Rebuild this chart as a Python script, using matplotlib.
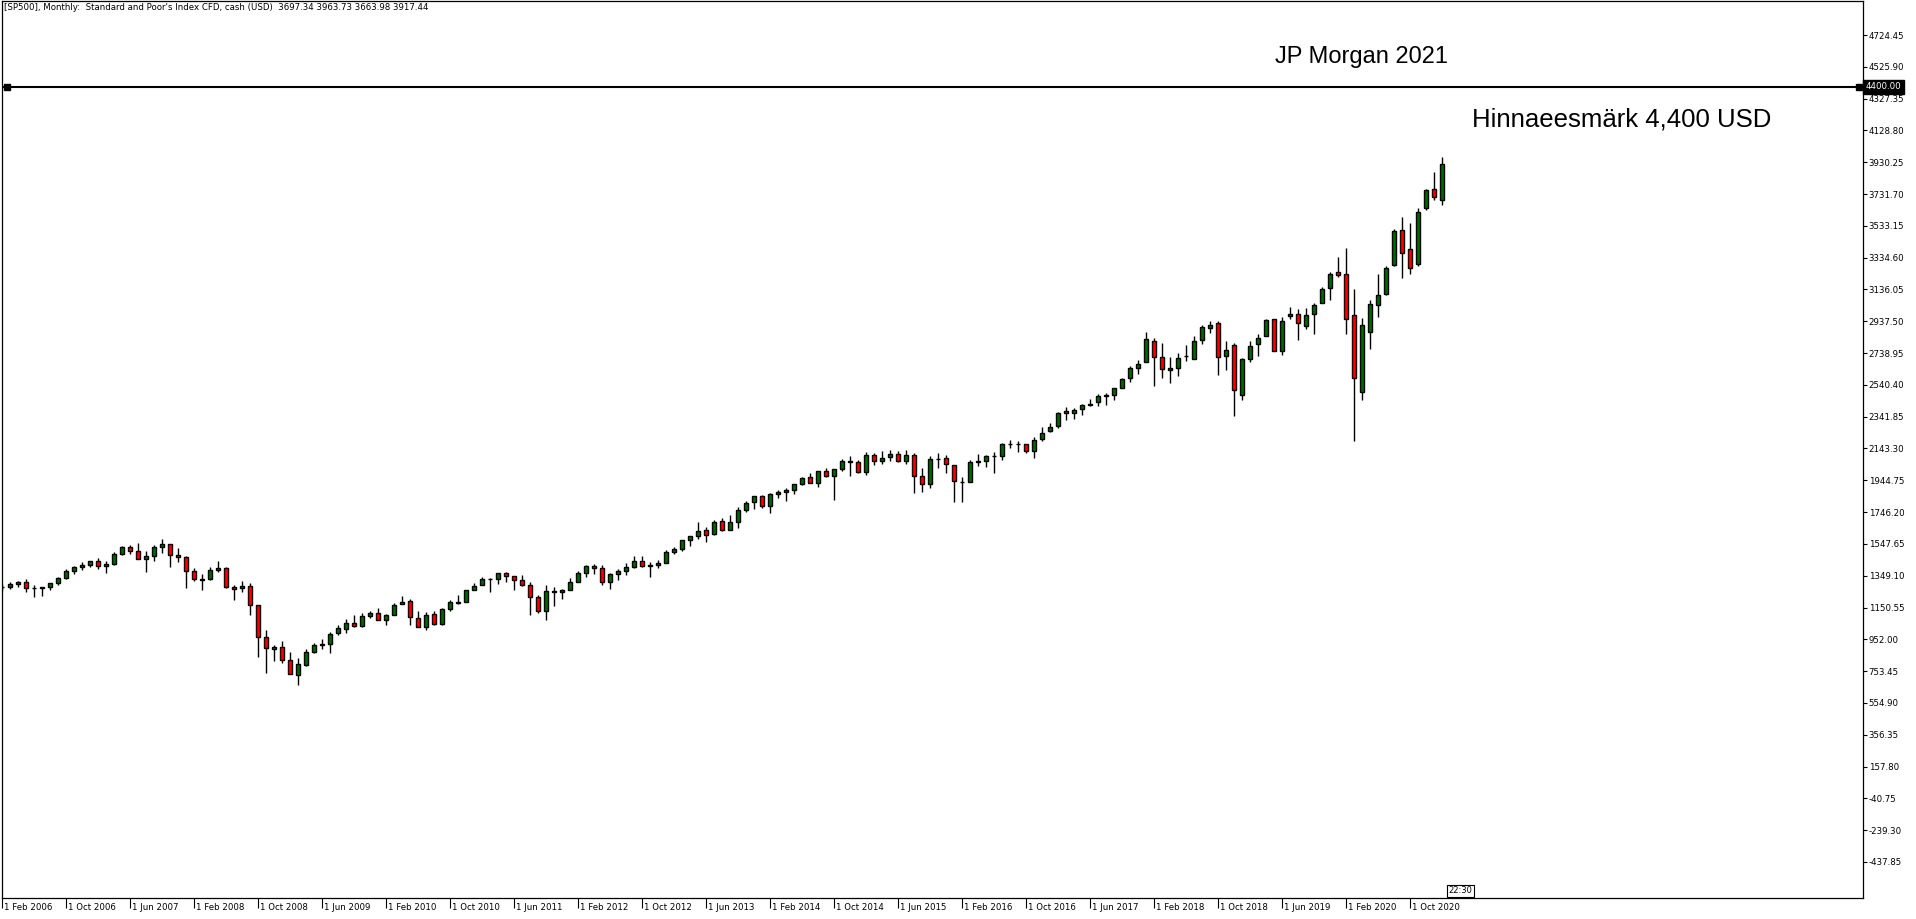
#!/usr/bin/env python
# -*- coding: utf-8 -*-
#
#  plot.py
#  monthly SP500 candles with the 4400 target line

import numpy as np
import pandas as pd
import matplotlib
matplotlib.use('Agg')
import matplotlib.pyplot as plt
import matplotlib.transforms as mtransforms


# # # # # data # # # # #

# first month of the series (one candle per month)
start_month = '2006-02-01'

opens = [
	1280.08, 1280.66, 1294.83, 1310.61, 1270.09, 1270.20, 1276.66, 1303.82, 1335.85, 1377.94, 1400.63,
	1418.30, 1438.24, 1406.80, 1420.83, 1482.37, 1530.62, 1504.66, 1455.18, 1473.96, 1526.75, 1545.79, 1479.63,
	1467.97, 1378.60, 1330.45, 1326.41, 1385.97, 1399.62, 1276.69, 1269.42, 1287.83, 1164.17, 968.67, 888.61,
	902.99, 823.09, 729.57, 793.59, 872.74, 923.26, 920.82, 990.22, 1019.52, 1054.91, 1036.18, 1098.89,
	1116.56, 1073.89, 1105.36, 1171.23, 1188.58, 1087.30, 1031.10, 1107.53, 1049.72, 1143.49, 1185.71, 1186.60,
	1257.62, 1289.14, 1328.64, 1329.48, 1365.21, 1345.20, 1320.64, 1292.59, 1219.12, 1131.21, 1251.00, 1246.91,
	1258.86, 1312.45, 1365.90, 1408.47, 1397.86, 1309.87, 1362.33, 1379.32, 1406.54, 1440.90, 1412.20, 1416.18,
	1426.19, 1498.11, 1514.68, 1569.18, 1597.55, 1631.71, 1609.78, 1689.42, 1635.95, 1682.41, 1758.70, 1806.55,
	1845.86, 1782.68, 1857.68, 1873.96, 1884.39, 1923.87, 1962.29, 1929.80, 2004.07, 1971.44, 2018.21, 2065.78,
	2058.90, 1996.67, 2105.23, 2067.63, 2087.38, 2108.64, 2067.00, 2104.49, 1970.09, 1919.65, 2080.76, 2082.93,
	2038.20, 1936.94, 1937.09, 2056.62, 2067.17, 2093.94, 2099.34, 2173.15, 2171.33, 2168.27, 2128.68, 2200.17,
	2251.57, 2285.59, 2380.13, 2362.34, 2388.50, 2415.65, 2431.39, 2477.10, 2474.42, 2521.20, 2583.21, 2645.10,
	2683.73, 2816.45, 2715.22, 2633.45, 2642.96, 2718.70, 2704.95, 2821.17, 2896.96, 2926.29, 2717.58, 2790.50,
	2476.96, 2702.32, 2798.22, 2848.63, 2952.33, 2751.53, 2971.41, 2980.32, 2909.01, 2983.69, 3050.72, 3143.85,
	3244.67, 3235.66, 2974.28, 2498.08, 2869.09, 3038.78, 3105.92, 3288.26, 3507.44, 3385.87, 3296.20, 3645.87,
	3764.61, 3697.34]

highs = [
	1297.57, 1310.88, 1318.16, 1326.70, 1290.68, 1280.42, 1306.74, 1340.28, 1389.45, 1407.89, 1431.81,
	1441.61, 1461.57, 1438.89, 1498.02, 1535.56, 1540.56, 1555.90, 1503.89, 1538.74, 1576.09, 1545.79, 1523.57,
	1471.77, 1396.02, 1359.68, 1404.57, 1440.24, 1404.05, 1292.17, 1313.15, 1303.04, 1167.03, 1007.51, 918.85,
	943.85, 875.01, 832.98, 888.70, 930.17, 956.23, 996.68, 1039.47, 1080.15, 1101.36, 1113.69, 1130.38,
	1150.45, 1112.42, 1180.69, 1219.80, 1205.13, 1131.23, 1120.95, 1129.24, 1148.90, 1196.14, 1227.08, 1262.60,
	1302.67, 1344.07, 1332.28, 1364.56, 1370.58, 1345.20, 1356.48, 1307.38, 1229.29, 1292.66, 1277.55, 1269.37,
	1333.47, 1378.04, 1419.15, 1422.38, 1415.32, 1363.46, 1391.74, 1426.68, 1474.51, 1470.96, 1434.27, 1448.00,
	1509.94, 1530.94, 1570.28, 1597.57, 1687.18, 1654.19, 1698.78, 1709.67, 1729.86, 1775.22, 1813.55, 1849.44,
	1850.84, 1867.92, 1883.97, 1897.28, 1924.03, 1968.17, 1991.39, 2005.04, 2019.26, 2018.19, 2075.76, 2093.55,
	2072.36, 2119.59, 2117.52, 2125.92, 2134.72, 2129.87, 2132.82, 2112.66, 2020.86, 2094.32, 2116.48, 2104.27,
	2038.20, 1962.96, 2072.21, 2111.05, 2103.48, 2120.55, 2177.09, 2193.81, 2187.87, 2169.60, 2214.10, 2277.53,
	2300.99, 2371.54, 2400.98, 2398.16, 2418.71, 2453.82, 2484.04, 2490.87, 2519.44, 2582.98, 2657.74, 2694.97,
	2872.87, 2835.96, 2801.90, 2717.49, 2742.24, 2791.47, 2848.03, 2916.50, 2940.91, 2939.86, 2815.15, 2800.18,
	2708.95, 2813.49, 2860.31, 2949.52, 2954.13, 2964.15, 3027.98, 3013.59, 3021.99, 3050.10, 3154.26, 3247.93,
	3337.77, 3393.52, 3136.72, 2954.86, 3068.67, 3233.13, 3279.99, 3514.77, 3588.11, 3549.85, 3645.99, 3760.20,
	3870.90, 3963.73]

lows = [
	1253.61, 1268.42, 1280.74, 1245.34, 1219.29, 1224.54, 1261.30, 1290.93, 1327.10, 1360.98, 1385.93,
	1403.97, 1389.42, 1363.98, 1416.37, 1476.70, 1484.18, 1454.25, 1370.60, 1439.29, 1489.56, 1406.10, 1435.65,
	1270.05, 1316.75, 1256.98, 1324.35, 1373.07, 1272.00, 1200.44, 1247.45, 1106.42, 839.80, 741.02, 815.69,
	804.30, 734.52, 666.79, 783.32, 866.10, 888.86, 869.32, 978.51, 991.97, 1029.38, 1029.38, 1085.89,
	1071.59, 1044.50, 1105.36, 1170.69, 1040.78, 1028.33, 1010.91, 1039.70, 1039.70, 1131.87, 1173.00, 1186.60,
	1257.62, 1289.14, 1249.05, 1294.70, 1311.80, 1258.07, 1282.86, 1101.54, 1114.22, 1074.77, 1158.66, 1202.37,
	1258.86, 1312.45, 1340.03, 1357.38, 1291.98, 1266.74, 1325.41, 1354.65, 1396.56, 1403.28, 1343.35, 1398.11,
	1426.19, 1485.01, 1501.48, 1536.03, 1581.28, 1560.33, 1604.57, 1627.47, 1633.41, 1646.47, 1746.20, 1767.99,
	1770.45, 1737.92, 1834.44, 1814.36, 1859.79, 1915.98, 1930.67, 1904.78, 1964.04, 1820.66, 2001.01, 1972.56,
	1988.12, 1980.90, 2039.69, 2048.38, 2067.93, 2056.32, 2044.02, 1867.01, 1871.91, 1893.70, 2019.39, 1993.26,
	1812.29, 1810.10, 1937.09, 2033.80, 2025.91, 1991.68, 2074.02, 2147.58, 2119.12, 2114.72, 2083.79, 2187.44,
	2245.13, 2271.65, 2322.25, 2328.95, 2352.72, 2405.70, 2407.70, 2417.35, 2446.55, 2520.40, 2557.45, 2605.52,
	2682.36, 2532.69, 2585.89, 2553.80, 2594.62, 2691.99, 2698.95, 2796.34, 2864.12, 2603.54, 2631.09, 2346.58,
	2443.96, 2681.83, 2722.27, 2848.63, 2750.52, 2728.81, 2952.22, 2822.12, 2891.85, 2855.94, 3050.72, 3070.33,
	3214.64, 2855.84, 2191.86, 2447.49, 2766.64, 2965.66, 3101.17, 3284.53, 3209.45, 3233.94, 3279.74, 3633.40,
	3694.12, 3663.98]

closes = [
	1280.66, 1294.83, 1310.61, 1270.09, 1270.20, 1276.66, 1303.82, 1335.85, 1377.94, 1400.63, 1418.30,
	1438.24, 1406.82, 1420.86, 1482.37, 1530.62, 1503.35, 1455.27, 1473.99, 1526.75, 1549.38, 1481.14, 1468.36,
	1378.55, 1330.63, 1322.70, 1385.59, 1400.38, 1280.00, 1267.38, 1282.83, 1166.36, 968.75, 896.24, 903.25,
	825.88, 735.09, 797.87, 872.81, 919.14, 919.32, 987.48, 1020.62, 1057.08, 1036.19, 1095.63, 1115.10,
	1073.87, 1104.49, 1169.43, 1186.69, 1089.41, 1030.71, 1101.60, 1049.33, 1141.20, 1183.26, 1180.55, 1257.64,
	1286.12, 1327.22, 1325.83, 1363.61, 1345.20, 1320.64, 1292.28, 1218.89, 1131.42, 1253.30, 1246.96, 1257.60,
	1312.41, 1365.68, 1408.47, 1397.91, 1310.33, 1362.16, 1379.32, 1406.58, 1440.67, 1412.16, 1416.18, 1426.19,
	1498.11, 1514.68, 1569.19, 1597.57, 1630.74, 1606.28, 1685.73, 1632.97, 1681.55, 1756.54, 1805.81, 1848.36,
	1782.59, 1859.45, 1872.34, 1883.95, 1923.57, 1960.23, 1930.67, 2003.37, 1972.29, 2018.05, 2067.56, 2058.90,
	1994.99, 2104.50, 2067.89, 2085.51, 2107.39, 2063.11, 2103.84, 1972.18, 1920.03, 2079.36, 2080.41, 2043.94,
	1940.24, 1932.23, 2059.74, 2065.30, 2096.95, 2098.86, 2173.60, 2170.95, 2168.27, 2126.15, 2198.81, 2238.83,
	2278.87, 2363.64, 2362.72, 2384.20, 2411.80, 2423.41, 2470.30, 2471.65, 2519.36, 2575.26, 2647.58, 2673.61,
	2823.81, 2713.83, 2640.87, 2648.05, 2705.27, 2718.37, 2816.29, 2901.52, 2913.98, 2711.74, 2760.17, 2506.85,
	2704.10, 2784.49, 2834.40, 2945.83, 2752.06, 2941.76, 2980.38, 2926.46, 2976.74, 3037.56, 3140.98, 3230.78,
	3225.52, 2954.22, 2584.59, 2912.43, 3044.31, 3100.29, 3271.12, 3500.31, 3363.00, 3269.96, 3621.63, 3756.07,
	3714.24, 3917.44]

# price scale labels on the right
price_ticks = [4724.45, 4525.90, 4327.35, 4128.80, 3930.25, 3731.70, 3533.15, 3334.60,
	3136.05, 2937.50, 2738.95, 2540.40, 2341.85, 2143.30, 1944.75, 1746.20, 1547.65,
	1349.10, 1150.55, 952.00, 753.45, 554.90, 356.35, 157.80, -40.75, -239.30, -437.85]

# price target line
target_level = 4400.00

title_text = "[SP500], Monthly:  Standard and Poor's Index CFD, cash (USD)  3697.34 3963.73 3663.98 3917.44"
note_top = 'JP Morgan 2021'
note_target = 'Hinnaeesmärk 4,400 USD'
clock_text = '22:30'


# # # # # figure # # # # #

W, H = 1916, 919

o = np.array(opens)
h = np.array(highs)
l = np.array(lows)
c = np.array(closes)
n = len(o)
x = np.arange(n)
months = pd.date_range(start_month, periods=n, freq='MS')

# initiate figure
fig = plt.figure(figsize=(W / 100, H / 100), dpi=100)
fig.patch.set_facecolor('white')

# chart window in pixel terms
ax = fig.add_axes([2 / W, 21 / H, 1861 / W, 897 / H])

# wicks first, bodies on top
ax.vlines(x, l, h, color='black', linewidth=1.0, zorder=1)
up = c >= o
body_col = np.where(up, '#006c00', '#ff0000')
ax.bar(x, np.abs(c - o), bottom=np.minimum(o, c), width=0.5, color=body_col,
	edgecolor='black', linewidth=1.0, zorder=2)

# limits so that 8 px per bar
x0 = -0.05
ax.set_xlim(x0, x0 + 1861 / 8)
ax.set_ylim(-662.6, 4936.7)

# target line with end markers
ax.axhline(target_level, color='black', linewidth=1.5, zorder=3)
ax.plot([x0 + 0.6, x0 + 1861 / 8 - 0.55], [target_level, target_level], 's',
	color='black', markersize=5, clip_on=False, zorder=4)

# price axis on the right
ax.yaxis.tick_right()
ax.set_yticks(price_ticks)
ax.set_yticklabels(['%.2f' % v for v in price_ticks])
ax.tick_params(axis='y', length=3, width=0.8, pad=1, labelsize=6.2)

# date axis, label every 8 months
tick_idx = x[::8]
ax.set_xticks(tick_idx)
ax.set_xticklabels([])
ax.tick_params(axis='x', length=7, width=0.8, direction='out')
trans = mtransforms.blended_transform_factory(ax.transData, ax.transAxes)
for i in tick_idx:
	ax.text(i + 0.25, -0.006, '1 ' + months[i].strftime('%b %Y'), transform=trans,
		ha='left', va='top', fontsize=6.2)

for s in ax.spines.values():
	s.set_linewidth(0.9)
	s.set_color('black')

# label box for the target line
ytrans = mtransforms.blended_transform_factory(ax.transAxes, ax.transData)
ax.text(1.0 + 3 / 1861, target_level, '%.2f' % target_level, transform=ytrans,
	color='white', fontsize=6.2, ha='left', va='center', zorder=5,
	bbox=dict(boxstyle='square,pad=0.3', fc='black', ec='black'))

# clock box on bottom edge
ax.text(n - 1 + 0.75, 0.003, clock_text, transform=trans, fontsize=6,
	ha='left', va='bottom', bbox=dict(boxstyle='square,pad=0.2', fc='white', ec='black', lw=0.8))

# texts
fig.text(4 / W, 1 - 8 / H, title_text, fontsize=6.2, ha='left', va='center')
fig.text(1275 / W, 1 - 57 / H, note_top, fontsize=17, family='Liberation Sans',
	ha='left', va='center')
fig.text(1472 / W, 1 - 120 / H, note_target, fontsize=18.5, family='Liberation Sans',
	ha='left', va='center')

fig.savefig('out.png', dpi=100)
